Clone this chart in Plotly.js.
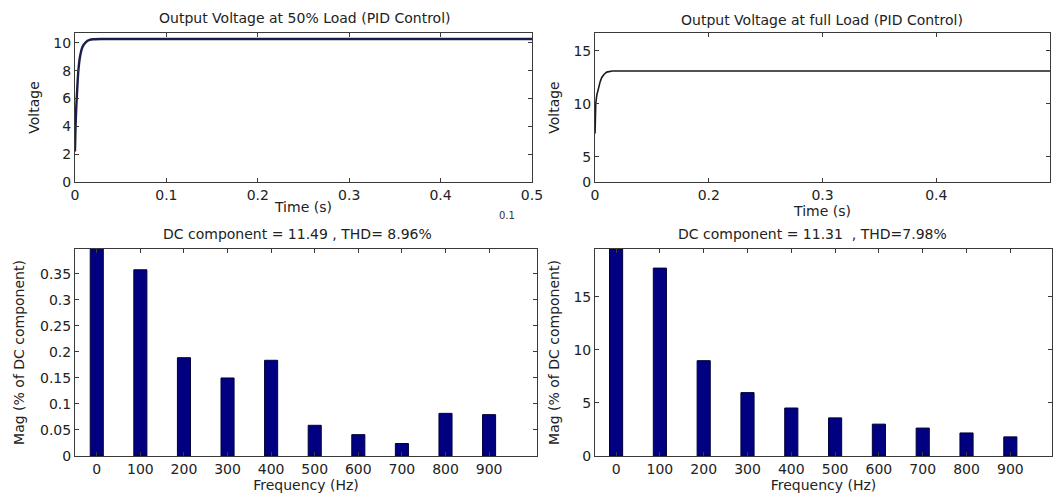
<!DOCTYPE html>
<html>
<head>
<meta charset="utf-8">
<script src="https://cdn.plot.ly/plotly-3.0.1.min.js"></script>
<style>
html,body{margin:0;padding:0;background:#fff;}
#chart{width:1053px;height:495px;}
</style>
</head>
<body>
<div id="chart"></div>
<script>
// ---- Data ----
// Top-left: output voltage at 50% load (time in s, voltage)
var time50 = [0, 0.0005, 0.0013, 0.0024, 0.0037, 0.0055, 0.0082, 0.012, 0.016, 0.02, 0.03, 0.1, 0.2, 0.3, 0.4, 0.5];
var volt50 = [2.2, 3.7, 5.2, 6.6, 8.0, 9.0, 9.7, 10.05, 10.2, 10.25, 10.27, 10.27, 10.27, 10.27, 10.27, 10.27];

// Top-right: output voltage at full load
var timeFull = [0.1, 0.1003, 0.1006, 0.1015, 0.1029, 0.1045, 0.1059, 0.108, 0.1103, 0.115, 0.2, 0.3, 0.4, 0.5];
var voltFull = [7.2, 8.5, 10.0, 10.8, 11.5, 12.1, 12.5, 12.8, 13.0, 13.1, 13.1, 13.1, 13.1, 13.1];

// Bottom: FFT harmonic spectra
var freqHz = [0, 100, 200, 300, 400, 500, 600, 700, 800, 900];
var mag50 = [100, 0.358, 0.189, 0.150, 0.184, 0.059, 0.041, 0.024, 0.082, 0.0795];
var magFull = [100, 17.7, 8.98, 5.97, 4.52, 3.59, 3.0, 2.63, 2.17, 1.8];

// Tick labels
var tlXTicks = [0, 0.1, 0.2, 0.3, 0.4, 0.5];
var tlXText = ['0', '0.1', '0.2', '0.3', '0.4', '0.5'];
var tlYTicks = [0, 2, 4, 6, 8, 10];
var trXTickVals = [0.1, 0.2, 0.3, 0.4, 0.5];
var trXTickText = ['0', '0.2', '0.3', '0.4', ''];
var trYTickVals = [2.6, 5, 10, 15];
var trYTickText = ['0', '5', '10', '15'];
var blYTicks = [0, 0.05, 0.1, 0.15, 0.2, 0.25, 0.3, 0.35];
var blYText = ['0', '0.05', '0.1', '0.15', '0.2', '0.25', '0.3', '0.35'];
var brYTicks = [0, 5, 10, 15];

var titles = [
  'Output Voltage at 50% Load (PID Control)',
  'Output Voltage at full Load (PID Control)',
  'DC component = 11.49 , THD= 8.96%',
  'DC component = 11.31  , THD=7.98%'
];

// ---- Styling ----
var FONT = 'DejaVu Sans, Liberation Sans, Arial, sans-serif';
var TXT = '#222';
var AX = '#3a3a3a';
var barColor = '#000080';
var TICKSIZE = 14;
var LABSIZE = 14;

function axisBase(extra) {
  var a = {
    showline: true, linecolor: AX, linewidth: 1, mirror: 'allticks',
    ticks: 'inside', ticklen: 4, tickcolor: AX, tickwidth: 1,
    showgrid: false, zeroline: false,
    tickfont: {family: FONT, size: TICKSIZE, color: TXT},
    fixedrange: true
  };
  for (var k in extra) a[k] = extra[k];
  return a;
}
function ttl(t, s) {
  return {text: t, font: {family: FONT, size: LABSIZE, color: TXT}, standoff: s};
}

var traces = [
  {x: time50, y: volt50, type: 'scatter', mode: 'lines', xaxis: 'x', yaxis: 'y',
   line: {color: '#1c1c4a', width: 2.4, shape: 'spline', smoothing: 0.8}, hoverinfo: 'skip'},
  {x: timeFull, y: voltFull, type: 'scatter', mode: 'lines', xaxis: 'x2', yaxis: 'y2',
   line: {color: '#1a1a1a', width: 1.6}, hoverinfo: 'skip'},
  {x: freqHz, y: mag50, type: 'bar', xaxis: 'x3', yaxis: 'y3', width: 30,
   marker: {color: barColor, line: {color: '#00003a', width: 1}}, hoverinfo: 'skip'},
  {x: freqHz, y: magFull, type: 'bar', xaxis: 'x4', yaxis: 'y4', width: 30,
   marker: {color: barColor, line: {color: '#00003a', width: 1}}, hoverinfo: 'skip'}
];

var topY = [0.6323, 0.9333];
var botY = [0.0788, 0.497];

var layout = {
  width: 1053, height: 495,
  margin: {l: 0, r: 0, t: 0, b: 0},
  paper_bgcolor: '#ffffff', plot_bgcolor: '#ffffff',
  showlegend: false,
  font: {family: FONT, size: 13, color: TXT},
  xaxis: axisBase({domain: [0.0712, 0.5052], anchor: 'y', range: [0, 0.5],
    tickvals: tlXTicks, ticktext: tlXText, title: ttl('Time (s)', 0)}),
  yaxis: axisBase({domain: topY, anchor: 'x', range: [0, 10.7], tickvals: tlYTicks,
    title: ttl('Voltage', 10)}),
  xaxis2: axisBase({domain: [0.5651, 0.9972], anchor: 'y2', range: [0.1, 0.5],
    tickvals: trXTickVals, ticktext: trXTickText, title: ttl('Time (s)', 0)}),
  yaxis2: axisBase({domain: topY, anchor: 'x2', range: [2.6, 16.7],
    tickvals: trYTickVals, ticktext: trYTickText, title: ttl('Voltage', 10)}),
  xaxis3: axisBase({domain: [0.0712, 0.51], anchor: 'y3', range: [-50, 1010],
    tickvals: freqHz, title: ttl('Frequency (Hz)', 0)}),
  yaxis3: axisBase({domain: botY, anchor: 'x3', range: [0, 0.398], tickvals: blYTicks,
    ticktext: blYText, title: ttl('Mag (% of DC component)', 12)}),
  xaxis4: axisBase({domain: [0.5651, 0.999], anchor: 'y4', range: [-48, 995],
    tickvals: freqHz, title: ttl('Frequency (Hz)', 0)}),
  yaxis4: axisBase({domain: botY, anchor: 'x4', range: [0, 19.5], tickvals: brYTicks,
    title: ttl('Mag (% of DC component)', 10)}),
  annotations: [
    {text: titles[0], xref: 'paper', yref: 'paper', x: 305 / 1053, y: 1 - 18 / 495,
     showarrow: false, xanchor: 'center', yanchor: 'middle', font: {family: FONT, size: 14, color: TXT}},
    {text: titles[1], xref: 'paper', yref: 'paper', x: 822 / 1053, y: 1 - 20 / 495,
     showarrow: false, xanchor: 'center', yanchor: 'middle', font: {family: FONT, size: 14, color: TXT}},
    {text: titles[2], xref: 'paper', yref: 'paper', x: 297 / 1053, y: 1 - 234 / 495,
     showarrow: false, xanchor: 'center', yanchor: 'middle', font: {family: FONT, size: 14, color: TXT}},
    {text: titles[3], xref: 'paper', yref: 'paper', x: 812 / 1053, y: 1 - 234 / 495,
     showarrow: false, xanchor: 'center', yanchor: 'middle', font: {family: FONT, size: 14, color: TXT}},
    {text: '0.1', xref: 'paper', yref: 'paper', x: 507 / 1053, y: 1 - 216 / 495,
     showarrow: false, xanchor: 'center', yanchor: 'middle', font: {family: FONT, size: 10, color: '#333'}}
  ]
};

Plotly.newPlot('chart', traces, layout, {staticPlot: true, displayModeBar: false});
</script>
</body>
</html>
